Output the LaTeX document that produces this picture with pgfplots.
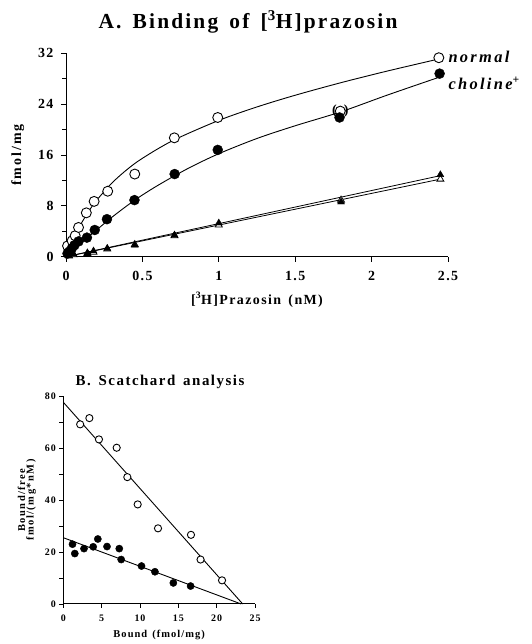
\documentclass[border=0pt]{standalone}
\usepackage{fontspec}
\setmainfont{Liberation Serif}
\newfontfamily\tf[LetterSpace=10,WordSpace=1.5]{Liberation Serif}
\newfontfamily\tfw[LetterSpace=14]{Liberation Serif}
\usepackage{pgfplots}
\pgfplotsset{compat=1.18}
\begin{document}
\begin{tikzpicture}[x=1bp,y=1bp]
\useasboundingbox (0,0) rectangle (532,644);
\pgfplotsset{
  common/.style={
    scale only axis, anchor=south west, clip=false,
    axis lines*=left, axis line style={-, line width=1bp},
    tick align=outside, tick style={black, line width=0.9bp},
    /pgf/number format/assume math mode=true,
  }
}
% ---------------- Panel A ----------------
\begin{axis}[common,
  at={(66bp,387.3bp)}, width=382bp, height=203.4bp,
  xmin=0, xmax=2.5, ymin=0, ymax=32,
  xtick={0,0.5,1,1.5,2,2.5}, xticklabels={0,0.5,1,1.5,2,2.5},
  ytick={0,8,16,24,32}, minor ytick={4,12,20,28},
  major tick length=5bp, minor tick length=4bp,
  ticklabel style={font=\tf\bfseries\fontsize{14}{14}\selectfont},
  xticklabel style={yshift=-6bp},
  yticklabel style={xshift=-4bp},
  xlabel={\tf\bfseries\fontsize{14}{14}\selectfont[\textsuperscript{3}H]Prazosin (nM)},
  ylabel={\tfw\bfseries\fontsize{14}{14}\selectfont fmol/mg},
  xlabel style={yshift=-5bp},
  ylabel style={yshift=7bp},
]
% fitted curves
\addplot[black, line width=0.9bp, smooth] coordinates {
 (0,0) (0.02,1.23) (0.05,2.88) (0.1,5.23) (0.15,7.19) (0.2,8.86) (0.3,11.58)
 (0.4,13.72) (0.5,15.48) (0.7,18.28) (1.0,21.44) (1.25,23.56) (1.5,25.4)
 (1.8,27.38) (2.1,29.19) (2.45,31.16)};
\addplot[black, line width=0.9bp, smooth] coordinates {
 (0,0) (0.05,1.1) (0.1,2.2) (0.2,4.2) (0.3,6.2) (0.45,8.9) (0.6,11.2)
 (0.8,13.9) (1.0,16.2) (1.25,18.6) (1.5,20.6) (1.8,22.8) (2.1,25.4) (2.45,28.3)};
\addplot[black, line width=0.8bp] coordinates {(0,0) (2.45,12.75)};
\addplot[black, line width=0.8bp] coordinates {(0,0) (2.45,12.2)};
% open triangles
\addplot[only marks, mark=triangle*, mark size=4bp, mark options={fill=white, draw=black, line width=0.8bp}] coordinates {
 (0.02,0.1) (0.05,0.3) (0.14,0.5) (0.18,0.7) (0.27,1.2) (0.45,1.9) (0.71,3.3) (1.0,5.0) (1.8,8.9) (2.45,12.2)};
% filled triangles
\addplot[only marks, mark=triangle*, mark size=4bp, mark options={fill=black, draw=black}] coordinates {
 (0.02,0.2) (0.05,0.4) (0.14,0.6) (0.18,0.9) (0.27,1.3) (0.45,1.8) (0.71,3.4) (1.0,5.3) (1.8,8.6) (2.45,12.9)};
% open circles (normal)
\addplot[only marks, mark=*, mark size=5bp, mark options={fill=white, draw=black, line width=0.9bp}] coordinates {
 (0.01,1.7) (0.04,2.5) (0.06,3.3) (0.082,4.6) (0.133,6.9) (0.184,8.7) (0.273,10.3)
 (0.45,13.0) (0.709,18.7) (0.993,21.9) (1.795,22.9) (2.44,31.3)};
% filled circles (choline+)
\addplot[only marks, mark=*, mark size=5bp, mark options={fill=black, draw=black}] coordinates {
 (0.01,0.5) (0.022,0.8) (0.038,1.3) (0.055,1.8) (0.082,2.4) (0.137,3.0) (0.188,4.2) (0.268,5.9)
 (0.448,8.9) (0.711,13.0) (0.993,16.8) (1.79,21.9) (2.445,28.8)};
\node[anchor=center, font=\tf\bfseries\fontsize{14}{14}\selectfont] at (axis cs:1.795,22.9) {(\hspace{7bp})};
\end{axis}
\node[font=\tfw\bfseries\itshape\fontsize{16.5}{16.5}\selectfont, anchor=west] at (445,587) {normal};
\node[font=\tfw\bfseries\itshape\fontsize{16.5}{16.5}\selectfont, anchor=west] at (445,561) {choline\textsuperscript{+}};
\node[font=\tf\bfseries\fontsize{21.5}{21.5}\selectfont] at (248,622) {A.\ Binding of [\textsuperscript{3}H]prazosin};
% ---------------- Panel B ----------------
\begin{axis}[common,
  at={(63.3bp,40bp)}, width=191.7bp, height=208bp,
  xmin=0, xmax=25, ymin=0, ymax=80,
  xtick={0,5,10,15,20,25},
  ytick={0,20,40,60,80}, minor ytick={10,30,50,70},
  major tick length=4bp, minor tick length=4bp,
  ticklabel style={font=\tf\bfseries\fontsize{10}{10}\selectfont},
  xticklabel style={yshift=-3bp},
  xlabel={\tf\bfseries\fontsize{10.5}{10.5}\selectfont Bound\hspace{5bp}(fmol/mg)},
  ylabel={\tfw\bfseries\fontsize{10.5}{11}\selectfont\begin{tabular}{c}Bound/free\\[-2.5bp]fmol/(mg*nM)\end{tabular}},
  xlabel style={yshift=-2bp},
  ylabel style={yshift=1bp},
]
\addplot[black, line width=0.9bp] coordinates {(0,77.6) (23.4,0)};
\addplot[black, line width=0.9bp] coordinates {(0,25.5) (23.2,0)};
\addplot[only marks, mark=*, mark size=3.6bp, mark options={fill=white, draw=black, line width=0.9bp}] coordinates {
 (2.2,69.1) (3.4,71.5) (4.65,63.3) (6.96,60.1) (8.35,48.8) (9.7,38.3) (12.35,29.1)
 (16.65,26.6) (17.9,17.1) (20.7,9.1)};
\addplot[only marks, mark=*, mark size=3.6bp, mark options={fill=black, draw=black}] coordinates {
 (1.2,23.0) (1.5,19.4) (2.7,21.3) (3.9,22.0) (4.5,25.0) (5.7,22.1) (7.3,21.3) (7.55,17.1)
 (10.2,14.6) (11.95,12.4) (14.35,8.1) (16.6,6.9)};
\end{axis}
\node[font=\tf\bfseries\fontsize{15}{15}\selectfont] at (160,262) {B.\ Scatchard analysis};
\end{tikzpicture}
\end{document}
